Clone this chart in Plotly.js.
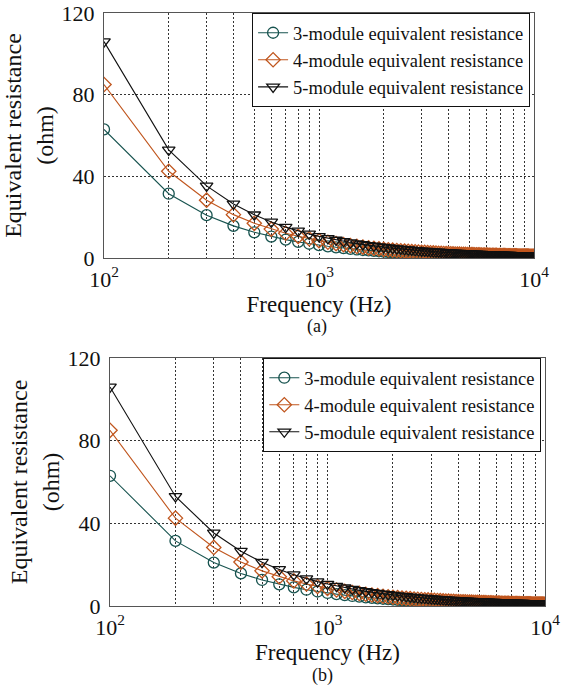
<!DOCTYPE html>
<html>
<head>
<meta charset="utf-8">
<script src="https://cdn.plot.ly/plotly-3.0.1.min.js"></script>
<style>html,body{margin:0;padding:0;background:#fff;}#chart{width:561px;height:700px;}</style>
</head>
<body>
<div id="chart"></div>
<script>
// Frequency (Hz)
const freq = [100,200,300,400,500,600,700,800,900,1000,1100,1200,1300,1400,1500,1600,1700,1800,1900,2000,
2100,2200,2300,2400,2500,2600,2700,2800,2900,3000,3100,3200,3300,3400,3500,3600,3700,3800,3900,4000,
4100,4200,4300,4400,4500,4600,4700,4800,4900,5000,5100,5200,5300,5400,5500,5600,5700,5800,5900,6000,
6100,6200,6300,6400,6500,6600,6700,6800,6900,7000,7100,7200,7300,7400,7500,7600,7700,7800,7900,8000,
8100,8200,8300,8400,8500,8600,8700,8800,8900,9000,9100,9200,9300,9400,9500,9600,9700,9800,9900,10000];

// Equivalent resistance (ohm)
const r3 = [63,31.5,21,15.75,12.6,10.5,9,7.88,7,6.3,5.73,5.25,4.85,4.5,4.2,3.94,3.71,3.5,3.32,3.15,
3.0,2.86,2.74,2.63,2.52,2.42,2.33,2.25,2.17,2.1,2.03,1.97,1.91,1.85,1.8,1.75,1.7,1.66,1.62,1.58,
1.54,1.5,1.47,1.43,1.4,1.37,1.34,1.31,1.29,1.26,1.24,1.21,1.19,1.17,1.15,1.13,1.11,1.09,1.07,1.05,
1.03,1.02,1.0,0.98,0.97,0.95,0.94,0.93,0.91,0.9,0.89,0.88,0.86,0.85,0.84,0.83,0.82,0.81,0.8,0.79,
0.78,0.77,0.76,0.75,0.74,0.73,0.72,0.72,0.71,0.7,0.69,0.68,0.68,0.67,0.66,0.66,0.65,0.64,0.64,0.63];

const r4 = [85,42.5,28.33,21.25,17,14.17,12.14,10.63,9.44,8.5,7.73,7.08,6.54,6.07,5.67,5.31,5,4.72,4.47,4.25,
4.05,3.86,3.7,3.54,3.4,3.27,3.15,3.04,2.93,2.83,2.74,2.66,2.58,2.5,2.43,2.36,2.3,2.24,2.18,2.13,
2.07,2.02,1.98,1.93,1.89,1.85,1.81,1.77,1.73,1.7,1.67,1.63,1.6,1.57,1.55,1.52,1.49,1.47,1.44,1.42,
1.39,1.37,1.35,1.33,1.31,1.29,1.27,1.25,1.23,1.21,1.2,1.18,1.16,1.15,1.13,1.12,1.1,1.09,1.08,1.06,
1.05,1.04,1.02,1.01,1.0,0.99,0.98,0.97,0.96,0.94,0.93,0.92,0.91,0.9,0.89,0.89,0.88,0.87,0.86,0.85];

const r5 = [106,53,35.33,26.5,21.2,17.67,15.14,13.25,11.78,10.6,9.64,8.83,8.15,7.57,7.07,6.63,6.24,5.89,5.58,5.3,
5.05,4.82,4.61,4.42,4.24,4.08,3.93,3.79,3.66,3.53,3.42,3.31,3.21,3.12,3.03,2.94,2.86,2.79,2.72,2.65,
2.59,2.52,2.47,2.41,2.36,2.3,2.26,2.21,2.16,2.12,2.08,2.04,2.0,1.96,1.93,1.89,1.86,1.83,1.8,1.77,
1.74,1.71,1.68,1.66,1.63,1.61,1.58,1.56,1.54,1.51,1.49,1.47,1.45,1.43,1.41,1.39,1.38,1.36,1.34,1.33,
1.31,1.29,1.28,1.26,1.25,1.23,1.22,1.2,1.19,1.18,1.16,1.15,1.14,1.13,1.12,1.1,1.09,1.08,1.07,1.06];

const seriesNames = ['3-module equivalent resistance','4-module equivalent resistance','5-module equivalent resistance'];
const xTickVals = [100,200,300,400,500,600,700,800,900,1000,2000,3000,4000,5000,6000,7000,8000,9000,10000];
const xTickText = ['10<sup>2</sup>','','','','','','','','','10<sup>3</sup>','','','','','','','','','10<sup>4</sup>'];
const yTickVals = [0,40,80,120];
const panelLabels = ['(a)','(b)'];

const colors = ['#17534f','#c0561e','#111111'];
const symbols = ['circle-open','diamond-open','triangle-down-open'];
const sizes = [11,11,11];
const data = [];
const ys = [r3,r4,r5];
[['x','y','legend'],['x2','y2','legend2']].forEach(([xa,ya,lg]) => {
  ys.forEach((y,i) => {
    data.push({
      x: freq, y: y, type: 'scatter', mode: 'lines+markers', name: seriesNames[i],
      xaxis: xa, yaxis: ya, legend: lg,
      line: {color: colors[i], width: 1.1},
      marker: {symbol: symbols[i], size: sizes[i], color: colors[i], line: {width: 1.3, color: colors[i]}}
    });
  });
});

const FAM = 'Liberation Serif, Times New Roman, serif';
function f(size) { return {family: FAM, color: '#111', size: size}; }
function xax(domain, anchor) {
  return {
    type: 'log', domain: domain, anchor: anchor, range: [2, 4],
    tickvals: xTickVals, ticktext: xTickText, tickangle: 0,
    showgrid: true, gridcolor: '#333', griddash: '2px,2px', gridwidth: 1,
    showline: true, linecolor: '#555', linewidth: 1.2, mirror: true,
    ticks: '', zeroline: false, ticklabelstandoff: 1,
    tickfont: f(22),
    title: {text: 'Frequency (Hz)', font: f(23), standoff: 0}
  };
}
function yax(domain, anchor) {
  return {
    domain: domain, anchor: anchor, range: [0, 120],
    tickvals: yTickVals, showgrid: true, gridcolor: '#333', griddash: '2px,2px', gridwidth: 1,
    showline: true, linecolor: '#555', linewidth: 1.2, mirror: true,
    ticks: '', zeroline: false, ticklabelstandoff: 4,
    tickfont: f(22),
    title: {text: 'Equivalent resistance<br>(ohm)', font: f(24), standoff: 1}
  };
}
function leg(x, y) {
  return {x: x, y: y, xanchor: 'left', yanchor: 'top', bgcolor: '#fff', bordercolor: '#111', borderwidth: 1.2,
    font: f(18.5), tracegroupgap: 0, itemwidth: 30, traceorder: 'normal'};
}

const layout = {
  width: 561, height: 700, margin: {l: 0, r: 0, t: 0, b: 0},
  paper_bgcolor: '#fff', plot_bgcolor: '#fff', showlegend: true,
  xaxis: xax([0.1854, 0.9519], 'y'),
  yaxis: yax([0.6314, 0.9814], 'x'),
  xaxis2: xax([0.1961, 0.9715], 'y2'),
  yaxis2: yax([0.1343, 0.4886], 'x2'),
  legend: leg(0.449, 0.9814),
  legend2: leg(0.469, 0.4886),
  annotations: [
    {text: panelLabels[0], xref: 'paper', yref: 'paper', x: 0.565, y: 1 - 327/700, showarrow: false, font: f(18)},
    {text: panelLabels[1], xref: 'paper', yref: 'paper', x: 0.575, y: 1 - 688/700, showarrow: false, font: f(18)}
  ]
};

function draw() { Plotly.newPlot('chart', data, layout, {staticPlot: true}); }
if (document.fonts && document.fonts.load) {
  Promise.all([
    document.fonts.load('19px "Liberation Serif"')
  ]).then(draw, draw);
} else { draw(); }
</script>
</body>
</html>
